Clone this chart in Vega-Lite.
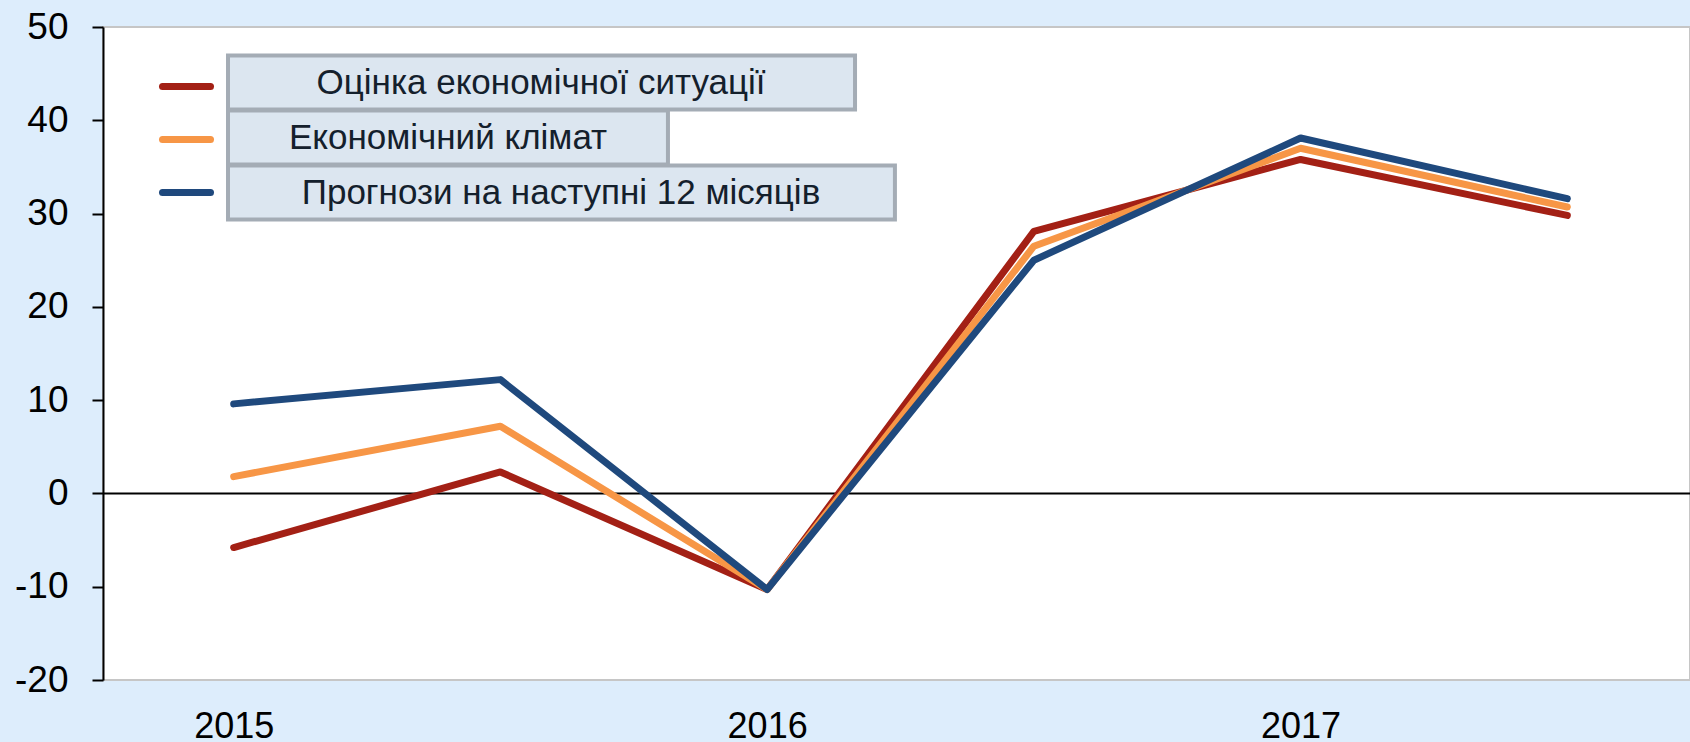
{
  "$schema": "https://vega.github.io/schema/vega-lite/v6.json",
  "width": 1587,
  "height": 653,
  "padding": {"left": 14, "top": 8, "right": 0, "bottom": 0},
  "autosize": {"type": "pad"},
  "background": "#ddedfc",
  "config": {
    "font": "Liberation Sans",
    "view": {"fill": "#ffffff", "stroke": "#c6c6c6", "strokeWidth": 2},
    "axisY": {"domainColor": "#000000", "domainWidth": 2, "tickColor": "#000000", "tickWidth": 2, "tickSize": 11, "labelPadding": 24, "labelFontSize": 37, "labelColor": "#000000", "labelFont": "Liberation Sans", "grid": false, "title": null},
    "axisX": {"domain": false, "ticks": false, "labelPadding": 29, "labelFontSize": 36, "labelColor": "#000000", "labelFont": "Liberation Sans", "grid": false, "title": null}
  },
  "layer": [
    {
      "data": {"values": [{"baseline": 0}]},
      "mark": {"type": "rule", "color": "#000000", "strokeWidth": 2},
      "encoding": {
        "y": {"field": "baseline", "type": "quantitative", "scale": {"domain": [-20, 50], "nice": false, "zero": false}, "axis": {"values": [-20, -10, 0, 10, 20, 30, 40, 50], "labelExpr": "toString(datum.value)", "title": null}}
      }
    },
    {
      "data": {"values": [
        {"t": 2015, "series": "Оцінка економічної ситуації", "value": -5.8},
        {"t": 2015.5, "series": "Оцінка економічної ситуації", "value": 2.3},
        {"t": 2016, "series": "Оцінка економічної ситуації", "value": -10.3},
        {"t": 2016.5, "series": "Оцінка економічної ситуації", "value": 28.1},
        {"t": 2017, "series": "Оцінка економічної ситуації", "value": 35.8},
        {"t": 2017.5, "series": "Оцінка економічної ситуації", "value": 29.8},
        {"t": 2015, "series": "Економічний клімат", "value": 1.8},
        {"t": 2015.5, "series": "Економічний клімат", "value": 7.2},
        {"t": 2016, "series": "Економічний клімат", "value": -10.3},
        {"t": 2016.5, "series": "Економічний клімат", "value": 26.5},
        {"t": 2017, "series": "Економічний клімат", "value": 37.0},
        {"t": 2017.5, "series": "Економічний клімат", "value": 30.7},
        {"t": 2015, "series": "Прогнози на наступні 12 місяців", "value": 9.6},
        {"t": 2015.5, "series": "Прогнози на наступні 12 місяців", "value": 12.2},
        {"t": 2016, "series": "Прогнози на наступні 12 місяців", "value": -10.3},
        {"t": 2016.5, "series": "Прогнози на наступні 12 місяців", "value": 25.0},
        {"t": 2017, "series": "Прогнози на наступні 12 місяців", "value": 38.1},
        {"t": 2017.5, "series": "Прогнози на наступні 12 місяців", "value": 31.6}
      ]},
      "mark": {"type": "line", "strokeWidth": 7, "strokeCap": "round", "strokeJoin": "round"},
      "encoding": {
        "x": {"field": "t", "type": "quantitative", "scale": {"domain": [2014.755, 2017.73], "nice": false, "zero": false}, "axis": {"values": [2015, 2016, 2017], "format": "d", "title": null}},
        "y": {"field": "value", "type": "quantitative", "scale": {"domain": [-20, 50], "nice": false, "zero": false}, "axis": {"values": [-20, -10, 0, 10, 20, 30, 40, 50], "labelExpr": "toString(datum.value)", "title": null}},
        "color": {
          "field": "series",
          "type": "nominal",
          "sort": null,
          "scale": {"domain": ["Оцінка економічної ситуації", "Економічний клімат", "Прогнози на наступні 12 місяців"], "range": ["#a32015", "#f79646", "#1f497d"]},
          "legend": {
            "orient": "top-left",
            "offset": 32,
            "title": null,
            "symbolType": "stroke",
            "symbolSize": 2304,
            "symbolStrokeWidth": 7,
            "symbolOffset": 24,
            "labelExpr": "''",
            "labelFontSize": 1,
            "rowPadding": 11,
            "padding": 0,
            "encode": {
              "symbols": {"update": {"strokeCap": {"value": "round"}}}
            }
          }
        },
        "opacity": {
          "field": "series",
          "type": "ordinal",
          "sort": null,
          "scale": {"domain": ["Оцінка економічної ситуації", "Економічний клімат", "Прогнози на наступні 12 місяців"], "range": [1, 1, 1]},
          "legend": {
            "orient": "none",
            "legendX": 125,
            "legendY": 36,
            "title": null,
            "symbolSize": 1225,
            "symbolFillColor": "#dce6f0",
            "symbolStrokeColor": "#a4acb5",
            "symbolStrokeWidth": 4,
            "labelFontSize": 35,
            "labelFont": "Liberation Sans",
            "labelColor": "#14202c",
            "labelLimit": 1000,
            "rowPadding": -30,
            "padding": 0,
            "encode": {
              "symbols": {"update": {
                "x": {"value": 0},
                "shape": {"signal": "datum.index === 0 ? 'M0,-1.543H35.83V1.543H0Z' : datum.index === 1 ? 'M0,-1.543H25.14V1.543H0Z' : 'M0,-1.543H38.11V1.543H0Z'"},
                "fill": {"value": "#dce6f0"},
                "stroke": {"value": "#a4acb5"},
                "strokeWidth": {"value": 4},
                "opacity": {"value": 1}
              }},
              "labels": {"update": {
                "x": {"signal": "datum.index === 0 ? 313 : datum.index === 1 ? 220 : 333"},
                "align": {"value": "center"}
              }}
            }
          }
        }
      }
    }
  ]
}
